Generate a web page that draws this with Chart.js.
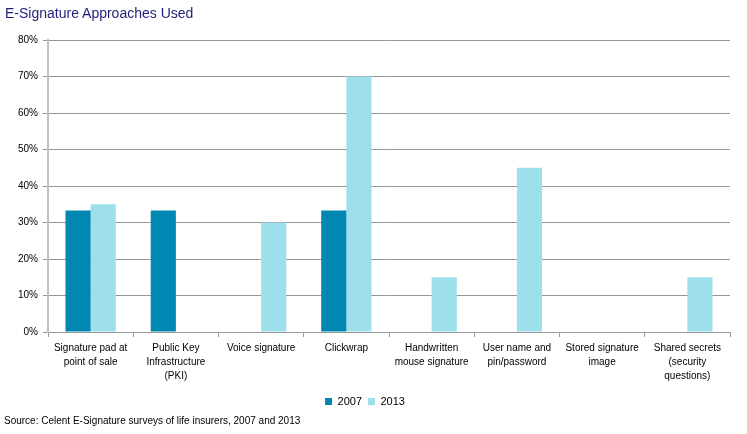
<!DOCTYPE html>
<html lang="en">
<head>
    <meta charset="UTF-8">
    <title>E-Signature Approaches Used</title>
    <script src="https://cdn.jsdelivr.net/npm/chart.js"></script>
    <style>
        body {
            margin: 0;
            background: #fff;
            font-family: 'Liberation Sans', Arial, sans-serif;
        }
        .wrap {
            position: relative;
            width: 747px;
            height: 434px;
        }
        .title {
            position: absolute;
            left: 5px;
            top: 5px;
            font-size: 14px;
            color: #1f1f78;
        }
        .source {
            position: absolute;
            left: 4px;
            top: 415px;
            font-size: 10px;
            color: #000;
        }
        canvas {
            position: absolute;
            left: 0;
            top: 0;
        }
    </style>
</head>
<body>
    <div class="wrap">
        <canvas id="chart" width="747" height="434"></canvas>
        <div class="title">E-Signature Approaches Used</div>
        <div class="source">Source: Celent E-Signature surveys of life insurers, 2007 and 2013</div>
    </div>

    <script>
        const categories = [
            ['Signature pad at', 'point of sale'],
            ['Public Key', 'Infrastructure', '(PKI)'],
            'Voice signature',
            'Clickwrap',
            ['Handwritten', 'mouse signature'],
            ['User name and', 'pin/password'],
            ['Stored signature', 'image'],
            ['Shared secrets', '(security', 'questions)']
        ];
        const values2007 = [33.3, 33.3, 0, 33.3, 0, 0, 0, 0];
        const values2013 = [35, 0, 30, 70, 15, 45, 0, 15];
        const yTicks = [0, 10, 20, 30, 40, 50, 60, 70, 80];

        const ctx = document.getElementById('chart').getContext('2d');
        new Chart(ctx, {
            type: 'bar',
            data: {
                labels: categories,
                datasets: [{
                    label: '2007',
                    data: values2007,
                    backgroundColor: '#0088b3',
                    categoryPercentage: 0.59,
                    barPercentage: 1.0
                }, {
                    label: '2013',
                    data: values2013,
                    backgroundColor: '#9edfec',
                    categoryPercentage: 0.59,
                    barPercentage: 1.0
                }]
            },
            options: {
                responsive: false,
                animation: false,
                layout: { padding: { top: 40, right: 17, left: 0, bottom: 17 } },
                plugins: {
                    tooltip: { enabled: false },
                    legend: {
                        position: 'bottom',
                        labels: {
                            boxWidth: 7,
                            boxHeight: 7,
                            padding: 6,
                            color: '#000',
                            font: { family: 'Liberation Sans', size: 11 }
                        }
                    }
                },
                scales: {
                    x: {
                        afterFit: s => { s.height = 58; },
                        grid: {
                            offset: true,
                            drawOnChartArea: false,
                            drawTicks: true,
                            tickLength: 5,
                            color: '#999'
                        },
                        border: { color: '#999', width: 1 },
                        ticks: {
                            maxRotation: 0,
                            autoSkip: false,
                            padding: 4,
                            color: '#000',
                            font: { family: 'Liberation Sans', size: 10, lineHeight: 1.4 }
                        }
                    },
                    y: {
                        min: 0,
                        max: 80,
                        afterFit: s => { s.width = 48; },
                        afterBuildTicks: s => { s.ticks = yTicks.map(v => ({ value: v })); },
                        grid: {
                            color: '#969696',
                            tickLength: 5,
                            lineWidth: 1
                        },
                        border: { color: '#c0c0c0', width: 2 },
                        ticks: {
                            padding: 5,
                            color: '#000',
                            font: { family: 'Liberation Sans', size: 10 },
                            callback: v => v + '%'
                        }
                    }
                }
            }
        });
    </script>
</body>
</html>
